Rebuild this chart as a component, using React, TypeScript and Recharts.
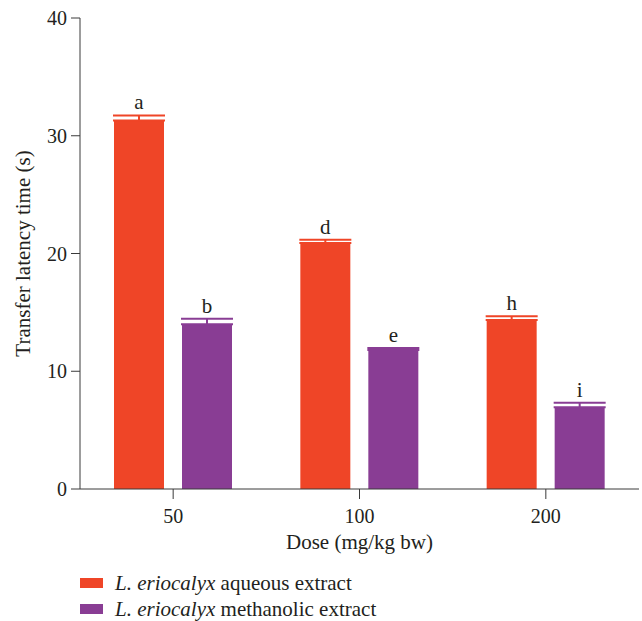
import React from 'react';
import {
  BarChart,
  Bar,
  XAxis,
  YAxis,
  ErrorBar,
  LabelList,
} from 'recharts';

const doses = ['50', '100', '200'];
const aqueous = [31.3, 20.9, 14.35];
const aqueousErr = [0.42, 0.26, 0.32];
const aqueousLetters = ['a', 'd', 'h'];
const methanolic = [14.0, 11.8, 6.95];
const methanolicErr = [0.45, 0.18, 0.38];
const methanolicLetters = ['b', 'e', 'i'];
const yTicks = [0, 10, 20, 30, 40];

const RED = '#ef4527';
const PURPLE = '#893d94';
const TEXT = '#231f20';
const FONT = '"Liberation Serif", "DejaVu Serif", serif';

const data = doses.map((d, i) => ({
  dose: d,
  aq: aqueous[i],
  aqErr: [0, aqueousErr[i]],
  aqErrVal: aqueousErr[i],
  aqLetter: aqueousLetters[i],
  me: methanolic[i],
  meErr: [0, methanolicErr[i]],
  meErrVal: methanolicErr[i],
  meLetter: methanolicLetters[i],
}));

// letter sits just above the error cap
const letterLabel = (errKey: string) => (props: any) => {
  const { x, y, width, height, value, index } = props;
  const row: any = data[index];
  const v = errKey === 'aqErrVal' ? row.aq : row.me;
  const errPx = (row[errKey] * height) / v;
  return (
    <text
      x={x + width / 2}
      y={y - errPx - 6}
      textAnchor="middle"
      fontFamily={FONT}
      fontSize={21}
      fill={TEXT}
    >
      {value}
    </text>
  );
};

const App: React.FC = () => {
  return (
    <div style={{ position: 'absolute', left: 0, top: 0, width: 642, height: 621, background: '#fff', fontFamily: FONT, overflow: 'hidden' }}>
      <BarChart
        width={642}
        height={560}
        data={data}
        margin={{ top: 18, right: 3, left: 0, bottom: 0 }}
        barSize={50}
        barGap={18}
      >
        <XAxis
          dataKey="dose"
          height={71}
          tickSize={10}
          stroke="#3a3a3a"
          tick={{ fill: TEXT, fontSize: 20, fontFamily: FONT }}
          tickMargin={10}
          label={{ value: 'Dose (mg/kg bw)', position: 'insideBottom', offset: 11, fill: TEXT, fontSize: 21, fontFamily: FONT }}
        />
        <YAxis
          width={80}
          domain={[0, 40]}
          ticks={yTicks}
          tickSize={9}
          stroke="#3a3a3a"
          tick={{ fill: TEXT, fontSize: 20, fontFamily: FONT }}
          tickMargin={4}
          label={{ value: 'Transfer latency time (s)', angle: -90, position: 'insideLeft', offset: 23, fill: TEXT, fontSize: 21, fontFamily: FONT, style: { textAnchor: 'middle' } }}
        />
        <Bar dataKey="aq" fill={RED} isAnimationActive={false}>
          <ErrorBar dataKey="aqErr" direction="y" width={26} stroke={RED} strokeWidth={2} />
          <LabelList dataKey="aqLetter" content={letterLabel('aqErrVal')} />
        </Bar>
        <Bar dataKey="me" fill={PURPLE} isAnimationActive={false}>
          <ErrorBar dataKey="meErr" direction="y" width={26} stroke={PURPLE} strokeWidth={2} />
          <LabelList dataKey="meLetter" content={letterLabel('meErrVal')} />
        </Bar>
      </BarChart>
      <div style={{ position: 'absolute', left: 80, top: 572, fontSize: 21, color: TEXT, lineHeight: '22px' }}>
        {[
          { color: RED, kind: 'aqueous extract' },
          { color: PURPLE, kind: 'methanolic extract' },
        ].map((item, i) => (
          <div key={item.kind} style={{ display: 'flex', alignItems: 'center', marginTop: i === 0 ? 0 : 4 }}>
            <span style={{ display: 'inline-block', width: 23, height: 10, background: item.color, marginRight: 12 }} />
            <span>
              <i>L. eriocalyx</i> {item.kind}
            </span>
          </div>
        ))}
      </div>
    </div>
  );
};

export default App;
